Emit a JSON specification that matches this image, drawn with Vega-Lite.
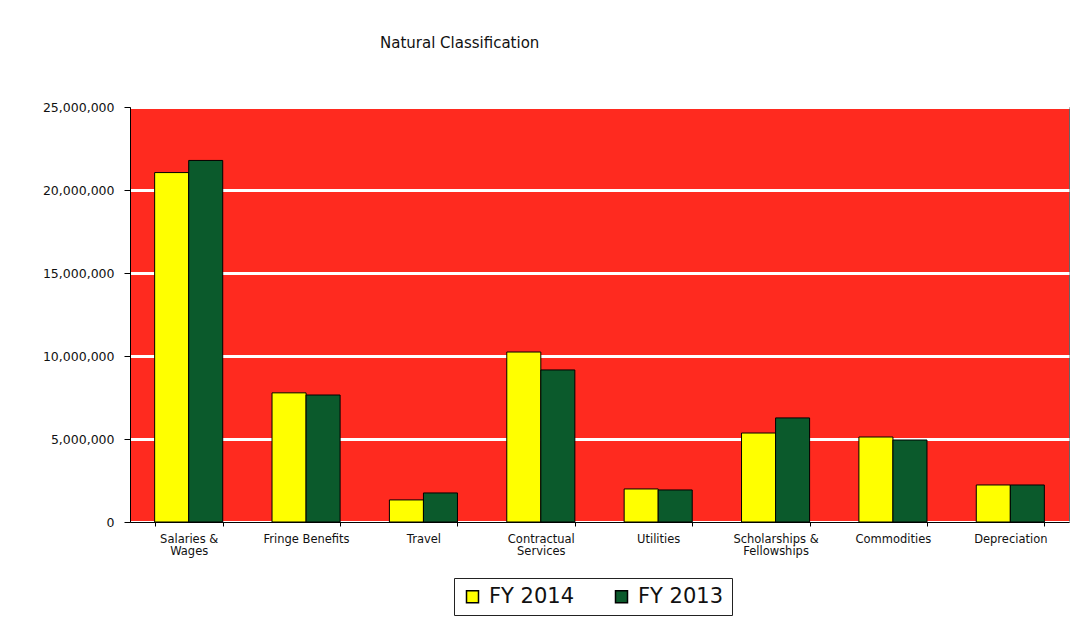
{
  "$schema": "https://vega.github.io/schema/vega-lite/v6.json",
  "width": 939,
  "height": 415,
  "autosize": "none",
  "padding": {"left": 130, "top": 107, "right": 15, "bottom": 101},
  "background": "white",
  "title": {
    "text": "Natural Classification",
    "anchor": "start",
    "frame": "group",
    "dx": 250,
    "offset": 50,
    "fontSize": 15,
    "fontWeight": "normal",
    "font": "DejaVu Sans",
    "color": "#111"
  },
  "data": {
    "values": [
      {"category": "Salaries & Wages", "year": "FY 2014", "amount": 21050000},
      {"category": "Salaries & Wages", "year": "FY 2013", "amount": 21780000},
      {"category": "Fringe Benefits", "year": "FY 2014", "amount": 7780000},
      {"category": "Fringe Benefits", "year": "FY 2013", "amount": 7650000},
      {"category": "Travel", "year": "FY 2014", "amount": 1330000},
      {"category": "Travel", "year": "FY 2013", "amount": 1750000},
      {"category": "Contractual Services", "year": "FY 2014", "amount": 10240000},
      {"category": "Contractual Services", "year": "FY 2013", "amount": 9160000},
      {"category": "Utilities", "year": "FY 2014", "amount": 1990000},
      {"category": "Utilities", "year": "FY 2013", "amount": 1930000},
      {"category": "Scholarships & Fellowships", "year": "FY 2014", "amount": 5360000},
      {"category": "Scholarships & Fellowships", "year": "FY 2013", "amount": 6270000},
      {"category": "Commodities", "year": "FY 2014", "amount": 5120000},
      {"category": "Commodities", "year": "FY 2013", "amount": 4940000},
      {"category": "Depreciation", "year": "FY 2014", "amount": 2230000},
      {"category": "Depreciation", "year": "FY 2013", "amount": 2230000}
    ]
  },
  "mark": {"type": "bar", "stroke": "black", "strokeWidth": 1},
  "encoding": {
    "x": {
      "field": "category",
      "type": "nominal",
      "sort": null,
      "scale": {"paddingInner": 0.42, "paddingOuter": 0.21},
      "axis": {
        "title": null,
        "labelAngle": 0,
        "tickBand": "extent",
        "domainColor": "black",
        "tickColor": "black",
        "tickSize": 4,
        "labelFont": "DejaVu Sans",
        "labelFontSize": 11.5,
        "labelColor": "#111",
        "labelPadding": 7,
        "labelLineHeight": 12,
        "labelBaseline": "top",
        "labelExpr": "datum.label == 'Salaries & Wages' ? ['Salaries &', 'Wages'] : datum.label == 'Contractual Services' ? ['Contractual', 'Services'] : datum.label == 'Scholarships & Fellowships' ? ['Scholarships &', 'Fellowships'] : datum.label",
        "grid": false
      }
    },
    "xOffset": {
      "field": "year",
      "type": "nominal",
      "scale": {"domain": ["FY 2014", "FY 2013"], "paddingInner": 0, "paddingOuter": 0}
    },
    "y": {
      "field": "amount",
      "type": "quantitative",
      "scale": {"domain": [0, 25000000], "nice": false},
      "axis": {
        "title": null,
        "values": [0, 5000000, 10000000, 15000000, 20000000, 25000000],
        "format": ",d",
        "domainColor": "black",
        "tickColor": "black",
        "tickSize": 6,
        "labelFont": "DejaVu Sans",
        "labelFontSize": 12.5,
        "labelColor": "#111",
        "labelPadding": 10,
        "grid": true,
        "gridColor": "white",
        "gridWidth": 3
      }
    },
    "color": {
      "field": "year",
      "type": "nominal",
      "scale": {"domain": ["FY 2014", "FY 2013"], "range": ["#ffff00", "#0b5a2c"]},
      "legend": {
        "title": null,
        "orient": "none",
        "legendX": 324,
        "legendY": 471,
        "direction": "horizontal",
        "symbolType": "square",
        "symbolSize": 144,
        "symbolStrokeColor": "black",
        "symbolStrokeWidth": 1.5,
        "labelFont": "DejaVu Sans",
        "labelFontSize": 21,
        "labelColor": "#111",
        "labelOffset": 6,
        "columnPadding": 36,
        "strokeColor": "#222",
        "fillColor": "white",
        "padding": 8
      }
    }
  },
  "config": {
    "view": {"fill": "#ff2a1f", "stroke": "#666", "strokeWidth": 1}
  }
}
